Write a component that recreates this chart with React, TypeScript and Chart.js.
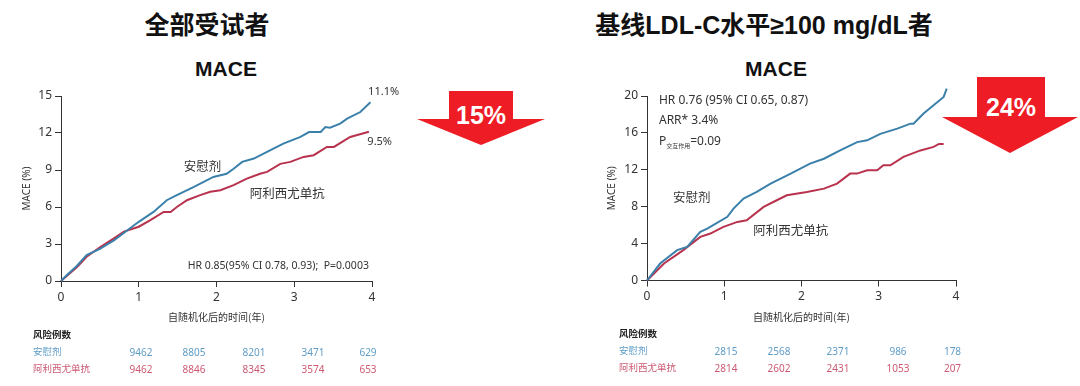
import React, { useEffect, useRef } from "react";
import { Chart, registerables } from "chart.js";

Chart.register(...registerables);

// ---------- DATA ----------
const timeTicks = [0, 1, 2, 3, 4];

const leftPlaceboT = [0, 0.08, 0.2, 0.33, 0.5, 0.68, 0.85, 1.0, 1.19, 1.36, 1.49, 1.71, 1.96, 2.13, 2.22, 2.33, 2.48, 2.65, 2.86, 3.08, 3.19, 3.34, 3.4, 3.46, 3.59, 3.68, 3.85, 3.98];
const leftPlaceboY = [0, 0.5, 1.2, 2.1, 2.6, 3.3, 4.1, 4.8, 5.6, 6.55, 6.96, 7.63, 8.44, 8.7, 9.1, 9.66, 9.93, 10.47, 11.14, 11.68, 12.08, 12.08, 12.49, 12.43, 12.76, 13.16, 13.7, 14.5];
const leftAliT = [0, 0.21, 0.33, 0.51, 0.68, 0.81, 1.0, 1.15, 1.32, 1.41, 1.49, 1.62, 1.79, 1.92, 2.05, 2.22, 2.39, 2.56, 2.65, 2.82, 2.95, 3.12, 3.25, 3.42, 3.51, 3.72, 3.96];
const leftAliY = [0, 1.16, 1.97, 2.78, 3.45, 4.0, 4.4, 4.94, 5.6, 5.6, 6.0, 6.55, 6.96, 7.23, 7.36, 7.77, 8.3, 8.7, 8.85, 9.5, 9.66, 10.06, 10.2, 10.87, 10.87, 11.68, 12.1];

const rightPlaceboT = [0, 0.17, 0.39, 0.52, 0.69, 0.78, 1.04, 1.12, 1.25, 1.42, 1.6, 1.86, 2.11, 2.29, 2.5, 2.72, 2.85, 3.02, 3.24, 3.41, 3.45, 3.58, 3.84, 3.88];
const rightPlaceboY = [0, 1.84, 3.29, 3.65, 5.27, 5.63, 6.9, 7.8, 8.88, 9.6, 10.5, 11.59, 12.67, 13.2, 14.1, 15.0, 15.2, 15.9, 16.46, 17.0, 17.0, 18.1, 19.9, 20.8];
const rightAliT = [0, 0.22, 0.47, 0.69, 0.82, 0.99, 1.17, 1.29, 1.51, 1.68, 1.81, 2.07, 2.29, 2.46, 2.63, 2.72, 2.85, 2.98, 3.06, 3.15, 3.32, 3.54, 3.71, 3.78, 3.84];
const rightAliY = [0, 1.84, 3.29, 4.73, 5.09, 5.81, 6.35, 6.53, 7.98, 8.7, 9.24, 9.6, 9.96, 10.5, 11.59, 11.59, 11.95, 11.95, 12.49, 12.49, 13.4, 14.1, 14.48, 14.8, 14.8];

const riskLeftPlacebo = [9462, 8805, 8201, 3471, 629];
const riskLeftAli = [9462, 8846, 8345, 3574, 653];
const riskRightPlacebo = [2815, 2568, 2371, 986, 178];
const riskRightAli = [2814, 2602, 2431, 1053, 207];

const groupNames = ["安慰剂", "阿利西尤单抗"];
const riskTitle = "风险例数";
const xAxisTitle = "自随机化后的时间(年)";
const yAxisTitle = "MACE (%)";

// ---------- STYLE ----------
const BLUE = "#3a80aa";
const RED = "#b8324d";
const RISK_BLUE = "#5f9cc6";
const RISK_RED = "#cc5a72";
const ARROW_RED = "#ee1c24";
const TXT = "#333";
const FONT = '"Noto Sans", "Noto Sans CJK SC", sans-serif';
const CJK_FONT = '"Noto Sans CJK SC", "Noto Sans", sans-serif';
const TITLE_FONT = '"Liberation Sans", "Noto Sans CJK SC", sans-serif';

const pts = (t: number[], y: number[]) => t.map((v, i) => ({ x: v, y: y[i] }));

type Part = { text: string; size: number; dy?: number };
type Ann = { x: number; y: number; align: CanvasTextAlign; size?: number; text?: string; parts?: Part[]; font?: string };

const annPlugin = {
  id: "annText",
  afterDatasetsDraw(chart: any) {
    const anns: Ann[] = chart.options.plugins.annText?.items || [];
    const ctx = chart.ctx;
    const xs = chart.scales.x;
    const ys = chart.scales.y;
    ctx.save();
    ctx.fillStyle = TXT;
    ctx.textBaseline = "middle";
    for (const a of anns) {
      const px = xs.getPixelForValue(a.x);
      const py = ys.getPixelForValue(a.y);
      if (a.parts) {
        let cx = px;
        for (const p of a.parts) {
          ctx.font = `${p.size}px ${a.font || FONT}`;
          ctx.textAlign = "left";
          ctx.fillText(p.text, cx, py + (p.dy || 0));
          cx += ctx.measureText(p.text).width;
        }
      } else {
        ctx.font = `${a.size || 12}px ${a.font || FONT}`;
        ctx.textAlign = a.align;
        ctx.fillText(a.text || "", px, py);
      }
    }
    ctx.restore();
  },
};

type ChartSpec = {
  placebo: { x: number; y: number }[];
  ali: { x: number; y: number }[];
  yMax: number;
  yStep: number;
  anns: Ann[];
  yAxisWidth: number;
  padRight: number;
  padTop: number;
  xAxisHeight: number;
  yTitlePad: number;
};

function KMChart({ spec, left, top, width, height }: { spec: ChartSpec; left: number; top: number; width: number; height: number }) {
  const ref = useRef<HTMLCanvasElement>(null);
  useEffect(() => {
    if (!ref.current) return;
    const tickFont = { family: FONT, size: 12 };
    const chart = new Chart(ref.current, {
      type: "line",
      data: {
        datasets: [
          { data: spec.placebo, borderColor: BLUE, borderWidth: 2, pointRadius: 0, tension: 0, fill: false, clip: false } as any,
          { data: spec.ali, borderColor: RED, borderWidth: 2, pointRadius: 0, tension: 0, fill: false, clip: false } as any,
        ],
      },
      options: {
        animation: false,
        responsive: false,
        maintainAspectRatio: false,
        layout: { padding: { left: 0, top: spec.padTop, right: spec.padRight, bottom: 0 } },
        plugins: {
          legend: { display: false },
          tooltip: { enabled: false },
          annText: { items: spec.anns },
        } as any,
        scales: {
          x: {
            type: "linear",
            min: timeTicks[0],
            max: timeTicks[timeTicks.length - 1],
            afterBuildTicks: (s: any) => {
              s.ticks = timeTicks.map((v) => ({ value: v }));
            },
            ticks: { font: tickFont, color: TXT, padding: 3, maxRotation: 0 },
            grid: { drawOnChartArea: false, drawTicks: true, tickLength: 6, color: TXT },
            border: { color: TXT, width: 1 },
            title: { display: true, text: xAxisTitle, color: TXT, font: { family: CJK_FONT, size: 10 }, padding: { top: 0, bottom: 7 } },
            afterFit: (s: any) => {
              s.height = spec.xAxisHeight;
            },
          },
          y: {
            type: "linear",
            min: 0,
            max: spec.yMax,
            ticks: { stepSize: spec.yStep, font: tickFont, color: TXT, padding: 3 },
            grid: { drawOnChartArea: false, drawTicks: true, tickLength: 6, color: TXT },
            border: { color: TXT, width: 1 },
            title: { display: true, text: yAxisTitle, color: TXT, font: { family: FONT, size: 10 }, padding: { top: spec.yTitlePad, bottom: 0 } },
            afterFit: (s: any) => {
              s.width = spec.yAxisWidth;
            },
          },
        },
      },
      plugins: [annPlugin],
    } as any);
    return () => chart.destroy();
  }, [spec]);
  return (
    <canvas
      ref={ref}
      width={width}
      height={height}
      style={{ position: "absolute", left, top, width, height, display: "block" }}
    />
  );
}

const leftSpec: ChartSpec = {
  placebo: pts(leftPlaceboT, leftPlaceboY),
  ali: pts(leftAliT, leftAliY),
  yMax: 15,
  yStep: 3,
  yAxisWidth: 61,
  padRight: 58,
  padTop: 16,
  xAxisHeight: 49,
  yTitlePad: 21,
  anns: [
    { text: "11.1%", x: 3.95, y: 15.3, align: "left", size: 11 },
    { text: "9.5%", x: 3.94, y: 11.28, align: "left", size: 11 },
    { text: groupNames[0], x: 1.82, y: 9.3, align: "center", size: 12.5, font: CJK_FONT },
    { text: groupNames[1], x: 2.91, y: 7.13, align: "center", size: 12.5, font: CJK_FONT },
    { text: "HR 0.85(95% CI 0.78, 0.93);  P=0.0003", x: 3.96, y: 1.24, align: "right", size: 10.5 },
  ],
};

const rightSpec: ChartSpec = {
  placebo: pts(rightPlaceboT, rightPlaceboY),
  ali: pts(rightAliT, rightAliY),
  yMax: 20,
  yStep: 4,
  yAxisWidth: 62,
  padRight: 59,
  padTop: 16,
  xAxisHeight: 49.5,
  yTitlePad: 20.7,
  anns: [
    { text: "HR 0.76 (95% CI 0.65, 0.87)", x: 0.155, y: 19.53, align: "left", size: 12 },
    { text: "ARR* 3.4%", x: 0.155, y: 17.29, align: "left", size: 12 },
    {
      x: 0.155,
      y: 15.02,
      align: "left",
      parts: [
        { text: "P", size: 12 },
        { text: "交互作用", size: 6, dy: 4 },
        { text: "=0.09", size: 12 },
      ],
    },
    { text: groupNames[0], x: 0.58, y: 9.07, align: "center", size: 12.5, font: CJK_FONT },
    { text: groupNames[1], x: 1.86, y: 5.47, align: "center", size: 12.5, font: CJK_FONT },
  ],
};

// ---------- LAYOUT ----------
function Txt({ x, y, children, style, align = "left" }: any) {
  const tx = align === "center" ? "-50%" : align === "right" ? "-100%" : "0";
  return (
    <div
      style={{
        position: "absolute",
        left: x,
        top: y,
        transform: `translate(${tx}, -50%)`,
        whiteSpace: "nowrap",
        lineHeight: 1,
        ...style,
      }}
    >
      {children}
    </div>
  );
}

function RiskTable({ x, yTop, colX, placebo, ali }: { x: number; yTop: number; colX: number[]; placebo: number[]; ali: number[] }) {
  const lab = { fontFamily: CJK_FONT, fontSize: 9.5 };
  const num = { fontFamily: FONT, fontSize: 10 };
  return (
    <>
      <Txt x={x} y={yTop} style={{ ...lab, fontWeight: 700, color: "#222" }}>{riskTitle}</Txt>
      <Txt x={x} y={yTop + 17} style={{ ...lab, color: RISK_BLUE }}>{groupNames[0]}</Txt>
      <Txt x={x} y={yTop + 34} style={{ ...lab, color: RISK_RED }}>{groupNames[1]}</Txt>
      {placebo.map((v, i) => (
        <Txt key={"p" + i} x={colX[i]} y={yTop + 17} align="center" style={{ ...num, color: RISK_BLUE }}>{v}</Txt>
      ))}
      {ali.map((v, i) => (
        <Txt key={"a" + i} x={colX[i]} y={yTop + 34} align="center" style={{ ...num, color: RISK_RED }}>{v}</Txt>
      ))}
    </>
  );
}

function Arrow({ shaftL, shaftR, shaftTop, headY, headL, headR, tipY, label, labelY }: any) {
  const cx = (headL + headR) / 2;
  const points = `${shaftL},${shaftTop} ${shaftR},${shaftTop} ${shaftR},${headY} ${headR},${headY} ${cx},${tipY} ${headL},${headY} ${shaftL},${headY}`;
  return (
    <>
      <svg style={{ position: "absolute", left: 0, top: 0 }} width={1080} height={386}>
        <polygon points={points} fill={ARROW_RED} />
      </svg>
      <Txt x={(shaftL + shaftR) / 2} y={labelY} align="center" style={{ fontFamily: TITLE_FONT, fontWeight: 700, fontSize: 25, color: "#fff" }}>
        {label}
      </Txt>
    </>
  );
}

export default function App() {
  const titleStyle = { fontFamily: TITLE_FONT, fontWeight: 700, fontSize: 25, color: "#111" };
  const subStyle = { fontFamily: TITLE_FONT, fontWeight: 700, fontSize: 21, color: "#111" };
  return (
    <div style={{ position: "absolute", left: 0, top: 0, width: 1080, height: 386, background: "#fff", overflow: "hidden" }}>
      <Arrow shaftL={449} shaftR={513} shaftTop={91} headY={119} headL={417} headR={545} tipY={145} label="15%" labelY={115} />
      <Arrow shaftL={977} shaftR={1045} shaftTop={77} headY={117} headL={942} headR={1078} tipY={153} label="24%" labelY={107} />

      <Txt x={207} y={25} align="center" style={titleStyle}>全部受试者</Txt>
      <Txt x={226} y={68} align="center" style={subStyle}>MACE</Txt>
      <Txt x={764} y={25} align="center" style={titleStyle}>基线LDL-C水平≥100 mg/dL者</Txt>
      <Txt x={776} y={68} align="center" style={subStyle}>MACE</Txt>

      <KMChart spec={leftSpec} left={0} top={80} width={430} height={250} />
      <KMChart spec={rightSpec} left={585} top={80} width={430} height={250} />

      <RiskTable x={33} yTop={335} colX={[141, 194, 254, 313, 368]} placebo={riskLeftPlacebo} ali={riskLeftAli} />
      <RiskTable x={619} yTop={334} colX={[726, 779, 838, 898, 952.5]} placebo={riskRightPlacebo} ali={riskRightAli} />
    </div>
  );
}
